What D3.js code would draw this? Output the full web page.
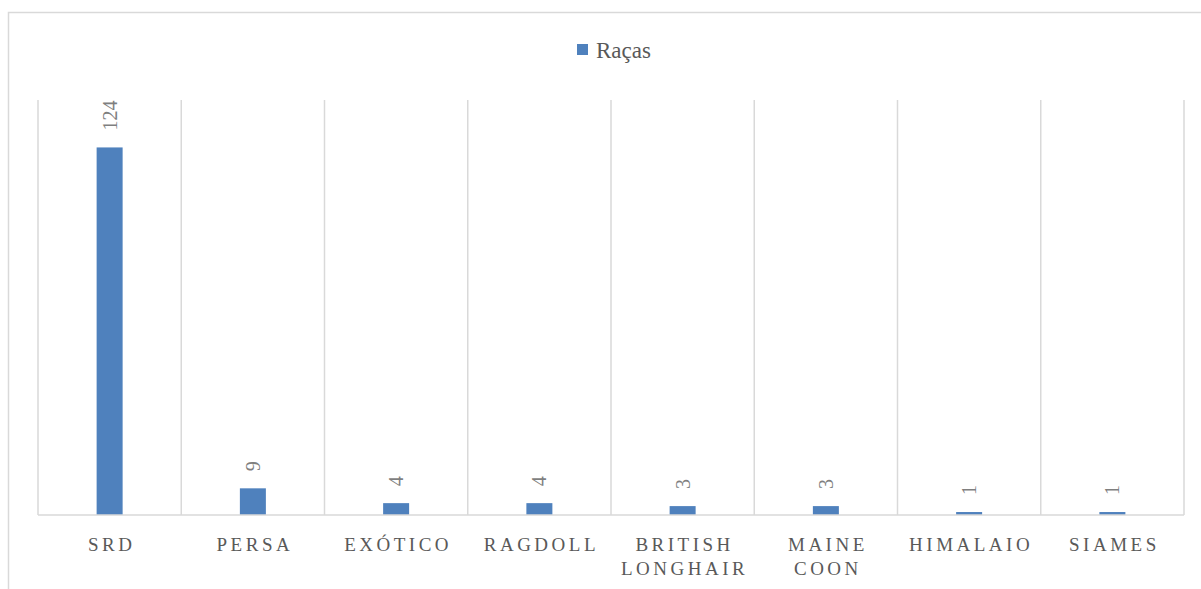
<!DOCTYPE html>
<html lang="pt">
<head>
  <meta charset="UTF-8">
  <title>Raças</title>
  <script src="https://d3js.org/d3.v7.min.js"></script>
  <style>
    html, body { margin: 0; background: #fff; }
    svg { display: block; }
    .cat { font-family: "Liberation Serif", serif; font-size: 19px; fill: #595959; letter-spacing: 3.5px; }
    .val { font-family: "Liberation Serif", serif; font-size: 20px; fill: #7f7f7f; }
    .legend text { font-family: "Liberation Serif", serif; font-size: 23px; fill: #595959; }
  </style>
</head>
<body>
  <svg width="1201" height="589"></svg>
  <script>
    // chart data
    const categories = [["SRD"], ["PERSA"], ["EXÓTICO"], ["RAGDOLL"], ["BRITISH", "LONGHAIR"], ["MAINE", "COON"], ["HIMALAIO"], ["SIAMES"]];
    const values = [124, 9, 4, 4, 3, 3, 1, 1];
    const seriesName = "Raças";

    const svg = d3.select("svg");
    const plotLeft = 38, plotRight = 1184, plotTop = 100, plotBottom = 515;

    // outer chart frame (runs off the right/bottom edge)
    svg.append("rect")
      .attr("x", 8.5).attr("y", 12.5)
      .attr("width", 1250).attr("height", 700)
      .attr("fill", "none").attr("stroke", "#d9d9d9").attr("stroke-width", 1.5);

    const x = d3.scaleBand()
      .domain(d3.range(categories.length))
      .range([plotLeft, plotRight]);

    const y = d3.scaleLinear()
      .domain([0, 140])
      .range([plotBottom, plotTop]);

    // vertical gridlines at category boundaries
    const bounds = d3.range(categories.length + 1).map(i => plotLeft + i * x.step());
    svg.append("g").selectAll("line")
      .data(bounds)
      .enter().append("line")
      .attr("x1", d => d).attr("x2", d => d)
      .attr("y1", plotTop).attr("y2", plotBottom)
      .attr("stroke", "#d9d9d9").attr("stroke-width", 1.5);

    // bars
    const barW = 26;
    svg.append("g").selectAll("rect")
      .data(values)
      .enter().append("rect")
      .attr("x", (d, i) => x(i) + x.bandwidth() / 2 - barW / 2)
      .attr("y", d => y(d))
      .attr("width", barW)
      .attr("height", d => y(0) - y(d))
      .attr("fill", "#4f81bd");

    // baseline
    svg.append("line")
      .attr("x1", plotLeft).attr("x2", plotRight)
      .attr("y1", plotBottom).attr("y2", plotBottom)
      .attr("stroke", "#d9d9d9").attr("stroke-width", 1.5);

    // rotated value labels
    svg.append("g").selectAll("text")
      .data(values)
      .enter().append("text")
      .attr("class", "val")
      .attr("transform", (d, i) => `translate(${x(i) + x.bandwidth() / 2 + 7},${y(d) - 17}) rotate(-90)`)
      .attr("text-anchor", "start")
      .text(d => d);

    // category labels
    const cat = svg.append("g").selectAll("text")
      .data(categories)
      .enter().append("text")
      .attr("class", "cat")
      .attr("text-anchor", "middle")
      .attr("x", (d, i) => x(i) + x.bandwidth() / 2 + 2)
      .attr("y", 551);
    cat.selectAll("tspan")
      .data(d => d)
      .enter().append("tspan")
      .attr("x", function () { return this.parentNode.getAttribute("x"); })
      .attr("dy", (d, i) => i === 0 ? 0 : 24)
      .text(d => d);

    // legend
    const legend = svg.append("g").attr("class", "legend");
    legend.append("rect")
      .attr("x", 577).attr("y", 44)
      .attr("width", 11).attr("height", 11)
      .attr("fill", "#4f81bd");
    legend.append("text")
      .attr("x", 596).attr("y", 58)
      .text(seriesName);
  </script>
</body>
</html>
